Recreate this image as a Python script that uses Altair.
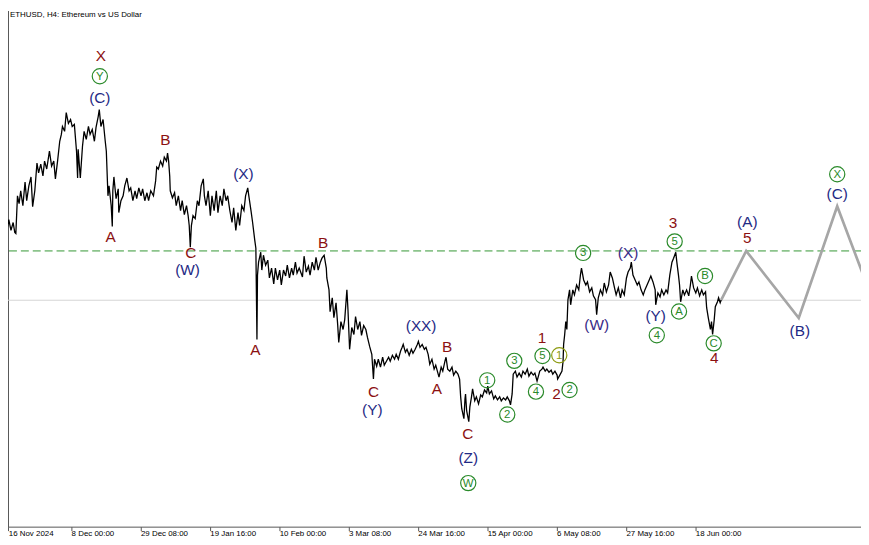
import altair as alt
import pandas as pd

TITLE = "ETHUSD, H4:  Ethereum vs US Dollar"

# H4 bar index (0 = 16 Nov 2024 16:00) and close price
bars = [1,4,6,10,13,17,21,24,26,29,32,35,39,43,46,50,54,57,61,65,
68,72,76,79,83,88,92,96,99,103,107,110,112,116,119,123,127,130,134,138,
140,141,145,149,152,156,160,163,167,171,174,178,180,183,187,191,193,196,198,202,
204,205,207,211,215,216,220,224,227,231,235,238,242,246,249,253,257,260,264,268,
271,275,280,284,286,289,293,297,300,304,306,308,310,311,315,319,322,326,330,333,
337,341,344,346,348,350,353,357,361,364,368,372,374,377,381,385,388,392,396,399,
403,407,410,414,417,421,425,428,432,436,439,443,447,450,454,456,460,463,467,469,
471,472,474,478,480,483,487,491,494,498,502,505,509,513,516,520,524,527,531,535,
538,542,545,549,555,558,562,566,569,573,577,580,584,588,591,595,599,600,604,606,
610,613,617,620,622,626,630,633,637,639,642,646,650,653,657,661,664,668,672,675,
679,683,686,688,692,695,699,703,706,710,714,717,721,725,728,732,736,739,741,745,
748,752,756,759,763,767,769,772,776,780,783,787,790,794,798,801,805,807,811,814,
818,820,823,827,831,834,838,842,845,847,849,853,855,856,858,862,864,867,869,873,
876,880,884,887,891,895,897,900,904,908,911,915,919,922,926,930,933,937,939,942,
944,948,951,955,959,962,966,970,973,977,981,984,988,990,993,997,999,1003,1006,1010,
1014,1017,1021,1025,1026,1030,1034,1036,1037,1039,1041,1043,1045,1048,1050,1054,1057,1061,1065,1068,
1070,1074,1078,1081,1085,1089,1092,1096,1098,1101,1105,1109,1112,1116,1120,1123,1127,1131,1134,1138,
1142,1145,1149,1153,1156,1160,1162,1165,1169,1173,1176,1180,1184,1187,1191,1195,1198,1202,1206,1207,
1211,1215,1218,1222,1226,1229,1233,1237,1240,1244,1246,1249,1251,1253,1257,1260,1264,1268,1271,1273,
1277,1281,1284,1288,1292,1295,1299,1301,1304,1308,1310,1312,1315,1317,1321,1323,1326,1328]

closes = [3130,3087,3164,3062,3138,3045,3113,3028,3019,3342,3274,3385,3257,3461,3300,3427,3504,3249,3385,3623,
3538,3614,3512,3640,3572,3725,3597,3640,3487,3640,3810,3869,3937,3895,4056,3963,3997,3937,3954,3725,
3495,3742,3495,3767,3895,3827,3937,3869,3912,3810,3929,4022,4082,3937,3997,3810,3725,3342,3427,3257,
3079,3385,3504,3317,3402,3198,3300,3342,3427,3495,3385,3410,3300,3385,3317,3410,3342,3402,3300,3368,
3300,3385,3342,3470,3589,3572,3640,3597,3674,3640,3708,3640,3512,3385,3325,3368,3257,3342,3215,3300,
3181,3257,3172,3087,2900,3087,3172,3147,3300,3257,3427,3487,3342,3257,3385,3172,3342,3215,3385,3198,
3342,3257,3402,3300,3342,3215,3113,3240,3045,3198,3087,3257,3215,3342,3410,3342,3215,3113,2960,2892,
2110,2662,2773,2858,2705,2832,2747,2790,2637,2722,2586,2722,2620,2705,2577,2705,2654,2747,2637,2722,
2662,2773,2679,2722,2645,2824,2688,2739,2662,2773,2705,2815,2705,2773,2807,2832,2722,2637,2535,2348,
2467,2297,2424,2237,2084,2263,2195,2280,2535,2365,2025,2212,2152,2305,2195,2263,2144,2229,2195,2127,
2050,1982,1770,1940,1880,1940,1872,1957,1889,1923,1957,1923,1974,1940,1982,1940,2008,2042,2067,1999,
2025,1974,2025,1991,2025,2067,2093,2042,2067,2025,2042,1982,1897,1940,1855,1889,1821,1787,1872,1838,
1923,1957,1855,1838,1872,1804,1838,1812,1770,1617,1515,1430,1600,1642,1498,1404,1532,1617,1685,1583,
1617,1557,1634,1617,1676,1651,1710,1642,1668,1600,1625,1591,1617,1583,1608,1591,1617,1583,1549,1642,
1812,1838,1787,1821,1787,1838,1812,1855,1795,1829,1804,1821,1753,1787,1838,1855,1872,1838,1855,1829,
1846,1812,1838,1804,1770,1804,1838,1923,2067,2152,2263,2195,2450,2535,2407,2535,2492,2577,2535,2662,
2722,2620,2577,2603,2518,2552,2484,2450,2322,2467,2535,2492,2594,2518,2577,2688,2637,2552,2492,2552,
2467,2535,2492,2637,2688,2722,2773,2662,2620,2577,2603,2535,2492,2535,2577,2620,2654,2603,2535,2407,
2509,2475,2535,2492,2535,2509,2662,2773,2807,2858,2773,2662,2577,2433,2535,2492,2535,2484,2577,2654,
2552,2509,2552,2484,2535,2492,2518,2382,2297,2195,2263,2152,2280,2390,2433,2467,2424,2450]

# projected path (gray)
proj_bars = [1328, 1374, 1471, 1542, 1600]
proj_prices = [2450, 2869, 2294, 3252, 2540]

current_price = 2446
level_price = 2869

tick_bars = [12, 128, 256, 384, 512, 640, 768, 896, 1024, 1152, 1280]
tick_labels = ["16 Nov 2024", "8 Dec 00:00", "29 Dec 08:00", "19 Jan 16:00",
               "10 Feb 00:00", "3 Mar 08:00", "24 Mar 16:00", "15 Apr 00:00",
               "6 May 08:00", "27 May 16:00", "18 Jun 00:00"]

# wave labels
lab_text = ["X", "(C)", "B", "A", "C", "(W)", "(X)", "A", "B", "C", "(Y)", "(XX)",
            "B", "A", "C", "(Z)", "1", "2", "(W)", "(X)", "(Y)", "3", "4",
            "(A)", "5", "(B)", "(C)"]
lab_bar = [183, 181, 302, 201, 349, 343, 446, 468, 593, 686, 684, 774,
           822, 803, 860, 861, 997, 1024, 1098, 1156, 1207, 1239, 1315,
           1376, 1376, 1473, 1542]
lab_price = [4541, 4184, 3818, 2988, 2847, 2705, 3530, 2016, 2937, 1662, 1506, 2223,
             2048, 1682, 1300, 1096, 2124, 1642, 2237, 2847, 2308, 3107, 1948,
             3115, 2983, 2180, 3357]
lab_kind = ["red", "navy", "red", "red", "red", "navy", "navy", "red", "red", "red", "navy", "navy",
            "red", "red", "red", "navy", "red", "red", "purple", "purple", "navy", "red", "red",
            "navy", "red", "navy", "navy"]

# circled labels
circ_text = ["Y", "W", "1", "2", "3", "4", "5", "1", "2", "3", "4", "5", "A", "B", "C", "X"]
circ_bar = [181, 861, 896, 933, 946, 986, 998, 1029, 1048, 1073, 1209, 1242, 1250, 1298, 1314, 1542]
circ_price = [4368, 877, 1759, 1466, 1926, 1662, 1968, 1974, 1676, 2852, 2146, 2951, 2350, 2654, 2076, 3527]
circ_kind = ["green"] * 7 + ["olive"] + ["green"] * 8

COLORS = {"red": "#8b1111", "navy": "#1f2a85", "purple": "#3a2c88",
          "green": "#2a8a2a", "olive": "#8c9a10"}

assert len(bars) == len(closes)

price_df = pd.DataFrame({"bar": bars, "price": closes})
proj_df = pd.DataFrame({"bar": proj_bars, "price": proj_prices})
lab_df = pd.DataFrame({"bar": lab_bar, "price": lab_price, "text": lab_text,
                       "color": [COLORS[k] for k in lab_kind]})
circ_df = pd.DataFrame({"bar": circ_bar, "price": circ_price, "text": circ_text,
                        "color": [COLORS[k] for k in circ_kind]})

label_expr = "[" + ",".join("'" + t + "'" for t in tick_labels) + "][round(datum.value/128)]"

x_enc = alt.X("bar:Q",
              scale=alt.Scale(domain=[11.52, 1585.9], nice=False, zero=False),
              axis=alt.Axis(values=tick_bars, labelExpr=label_expr, title=None, grid=False,
                            tickSize=4, tickColor="#555555", domainColor="#555555",
                            labelAlign="left", labelBaseline="alphabetic", labelPadding=5,
                            labelFont="Liberation Sans", labelFontSize=8, labelColor="#000000",
                            labelOverlap=False, labelFlush=False, labelBound=False))
y_enc = alt.Y("price:Q",
              scale=alt.Scale(domain=[503.5, 4932], nice=False, zero=False),
              axis=alt.Axis(labels=False, ticks=False, title=None, grid=False,
                            domainColor="#555555"))

base_price = alt.Chart(price_df)

cur_rule = alt.Chart(pd.DataFrame({"price": [current_price]})).mark_rule(
    color="#d4d4d4", strokeWidth=1).encode(y=y_enc)
lvl_rule = alt.Chart(pd.DataFrame({"price": [level_price]})).mark_rule(
    color="#8cc48c", strokeWidth=1.7, strokeDash=[8, 4]).encode(y=y_enc)

price_line = base_price.mark_line(color="#000000", strokeWidth=1.3, clip=True).encode(
    x=x_enc, y=y_enc, order="bar:Q")
proj_line = alt.Chart(proj_df).mark_line(color="#a6a6a6", strokeWidth=2.7, clip=True).encode(
    x=x_enc, y=y_enc, order="bar:Q")

labels = alt.Chart(lab_df).mark_text(font="Liberation Sans", fontSize=15.5,
                                     align="center", baseline="middle").encode(
    x=x_enc, y=y_enc, text="text:N", color=alt.Color("color:N", scale=None))

circles = alt.Chart(circ_df).mark_point(shape="circle", filled=False, size=235,
                                        strokeWidth=1.2, opacity=1).encode(
    x=x_enc, y=y_enc, color=alt.Color("color:N", scale=None))
circ_labels = alt.Chart(circ_df).mark_text(font="Liberation Sans", fontSize=11.5,
                                           align="center", baseline="middle", dy=0.5).encode(
    x=x_enc, y=y_enc, text="text:N", color=alt.Color("color:N", scale=None))

title_txt = alt.Chart(pd.DataFrame({"t": [TITLE]})).mark_text(
    font="Liberation Sans", fontSize=8, align="left", baseline="top", color="#000000").encode(
    x=alt.value(2), y=alt.value(1), text="t:N")

chart = alt.layer(cur_rule, lvl_rule, price_line, proj_line, labels, circles, circ_labels,
                  title_txt).properties(
    width=861, height=521, autosize=alt.AutoSizeParams(type="none"),
    padding={"left": 0, "top": 0, "right": 0, "bottom": 16},
    background="#ffffff"
).configure_view(stroke=None)

chart.save("out.html", embed_options={"renderer": "svg", "actions": False})
